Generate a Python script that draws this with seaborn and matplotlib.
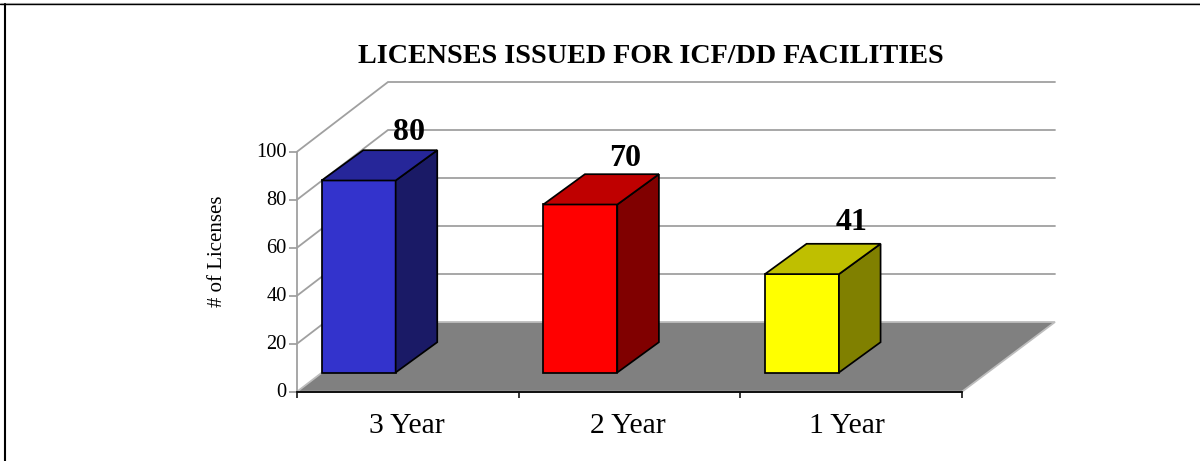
import matplotlib
matplotlib.use("Agg")
import matplotlib.pyplot as plt
from matplotlib.lines import Line2D
from matplotlib.patches import Polygon
from matplotlib.transforms import Affine2D, ScaledTranslation
import seaborn as sns

categories = ["3 Year", "2 Year", "1 Year"]
values = [80, 70, 41]
y_ticks = [0, 20, 40, 60, 80, 100]
front_colors = ["#3333CC", "#FF0000", "#FFFF00"]
top_colors = ["#262699", "#BF0000", "#BFBF00"]
side_colors = ["#1A1A66", "#800000", "#808000"]
title = "LICENSES ISSUED FOR ICF/DD FACILITIES"
y_label = "# of Licenses"

sns.set_theme(style="white")
plt.rcParams["font.family"] = ["Liberation Serif", "DejaVu Serif"]
plt.rcParams["text.color"] = "black"

W, H = 1200, 461
fig = plt.figure(figsize=(W / 100, H / 100), dpi=100)
ax = fig.add_axes([297 / W, (H - 391.7) / H, 665 / W, 240 / H])
ax.patch.set_alpha(0)

PX_X = 665 / 3          # pixels per category
PX_Y = 2.4              # pixels per value unit
WALL_DX, WALL_DY = 91 / PX_X, 69.7 / PX_Y
WALL_DX_RIGHT = 93 / PX_X
BAR_SHIFT_X, BAR_SHIFT_Y = -49.2 / PX_X, 19.2 / PX_Y
BAR_DX, BAR_DY = 41.6 / PX_X, 30.3 / PX_Y
BAR_W = 74 / PX_X
GRID = "#A0A0A0"
GRID_LW = 1.3
EDGE_LW = 1.25

sns.barplot(x=categories, y=values, hue=categories, palette=front_colors, width=BAR_W,
            saturation=1, legend=False, edgecolor="black", linewidth=EDGE_LW, ax=ax, zorder=3)
bars = list(ax.patches)

ax.set_xlim(-0.5, 2.5)
ax.set_ylim(0, 100)

# Floor and back wall of the oblique box
x0, x1 = -0.5, 2.5
ax.add_patch(Polygon([(x0, 0), (x1, 0), (x1 + WALL_DX_RIGHT, WALL_DY), (x0 + WALL_DX, WALL_DY)],
                     closed=True, facecolor="#808080", edgecolor="#BDBDBD", linewidth=GRID_LW,
                     clip_on=False, zorder=1))
for v in y_ticks[1:]:
    ax.plot([x0, x0 + WALL_DX, x1 + WALL_DX_RIGHT], [v, v + WALL_DY, v + WALL_DY],
            color=GRID, lw=GRID_LW, clip_on=False, zorder=1, solid_joinstyle="miter")

# Bars: front face moved into the box, then side and top faces
shift = Affine2D().translate(BAR_SHIFT_X, BAR_SHIFT_Y)
for p, top_c, side_c in zip(bars, top_colors, side_colors):
    xl = p.get_x() + BAR_SHIFT_X
    xr = xl + p.get_width()
    yb = BAR_SHIFT_Y
    yt = yb + p.get_height()
    p.set_transform(shift + ax.transData)
    p.set_clip_on(False)
    p.set_joinstyle("miter")
    ax.add_patch(Polygon([(xr, yb), (xr + BAR_DX, yb + BAR_DY), (xr + BAR_DX, yt + BAR_DY), (xr, yt)],
                         closed=True, facecolor=side_c, edgecolor="black", linewidth=EDGE_LW,
                         clip_on=False, zorder=3, joinstyle="miter"))
    ax.add_patch(Polygon([(xl, yt), (xr, yt), (xr + BAR_DX, yt + BAR_DY), (xl + BAR_DX, yt + BAR_DY)],
                         closed=True, facecolor=top_c, edgecolor="black", linewidth=EDGE_LW,
                         clip_on=False, zorder=3, joinstyle="miter"))

# Value labels (offsets in points from the back top edge of each bar)
label_offsets = [(1, 7), (-3.5, 6), (0.5, 10)]
for i, (v, off) in enumerate(zip(values, label_offsets)):
    ax.annotate(str(v), (i, v + BAR_SHIFT_Y + BAR_DY), xytext=off, textcoords="offset points",
                ha="center", va="baseline", fontsize=23, fontweight="bold", color="black",
                annotation_clip=False, zorder=5)

# Axes
for s in ("top", "right"):
    ax.spines[s].set_visible(False)
ax.spines["left"].set_color(GRID)
ax.spines["left"].set_linewidth(GRID_LW)
ax.spines["bottom"].set_color("black")
ax.spines["bottom"].set_linewidth(1.3)
ax.spines["left"].set_zorder(2)
ax.spines["bottom"].set_zorder(2)

ax.set_yticks(y_ticks)
ax.tick_params(axis="y", left=True, length=5.5, width=GRID_LW, color=GRID, labelsize=14.7,
               labelcolor="black", pad=2)
lift = ScaledTranslation(0, 2 / 100, fig.dpi_scale_trans)
for lbl in ax.get_yticklabels():
    lbl.set_transform(lbl.get_transform() + lift)
ax.set_xticks(range(len(categories)))
ax.set_xticklabels(categories)
ax.set_xticks([-0.5, 0.5, 1.5, 2.5], minor=True)
ax.tick_params(axis="x", which="major", bottom=False, length=0, labelsize=21.4, labelcolor="black", pad=15)
ax.tick_params(axis="x", which="minor", bottom=True, length=4.5, width=1.1, color="black")
for lbl, dx_px in zip(ax.get_xticklabels(), [-0.5, -1.5, -4]):
    lbl.set_transform(lbl.get_transform() + ScaledTranslation(dx_px / 100, 0, fig.dpi_scale_trans))
ax.set_xlabel("")
ax.set_ylabel("")

fig.text(217 / W, (H - 251) / H, y_label, rotation=90, ha="center", va="center", fontsize=15, color="black")
fig.text(651 / W, (H - 56.5) / H, title, ha="center", va="center", fontsize=20.26,
         fontweight="bold", color="black")

# Outer frame: left and top only
fig.add_artist(Line2D([0, 1], [(H - 3) / H] * 2, transform=fig.transFigure, color="#BDBDBD", lw=0.8))
fig.add_artist(Line2D([0, 1], [(H - 4.5) / H] * 2, transform=fig.transFigure, color="black", lw=1.0))
fig.add_artist(Line2D([5 / W] * 2, [0, (H - 4.5) / H], transform=fig.transFigure, color="black", lw=1.5))

fig.savefig("out.png", dpi=100)
